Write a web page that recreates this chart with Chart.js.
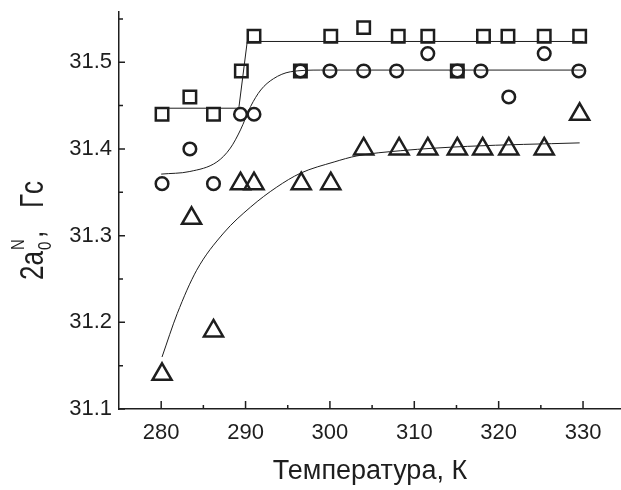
<!DOCTYPE html>
<html lang="ru">
<head>
    <meta charset="UTF-8">
    <title>2a0N от температуры</title>
    <script src="https://cdn.jsdelivr.net/npm/chart.js"></script>
    <style>
        body { margin: 0; background: #fff; }
        #wrap { width: 621px; height: 490px; }
    </style>
</head>
<body>
<div id="wrap">
    <canvas id="chart" width="621" height="490"></canvas>
</div>
<script>
    // квадраты
    const tempSquares = [280.1, 283.4, 286.2, 289.5, 291.0, 296.5, 300.1, 304.0, 308.1, 311.6, 315.1, 318.2, 321.1, 325.4, 329.6];
    const valSquares  = [31.44, 31.46, 31.44, 31.49, 31.53, 31.49, 31.53, 31.54, 31.53, 31.53, 31.49, 31.53, 31.53, 31.53, 31.53];
    // кружки
    const tempCircles = [280.1, 283.4, 286.2, 289.4, 291.0, 296.5, 300.0, 304.0, 307.9, 311.6, 315.1, 317.9, 321.2, 325.4, 329.5];
    const valCircles  = [31.36, 31.40, 31.36, 31.44, 31.44, 31.49, 31.49, 31.49, 31.49, 31.51, 31.49, 31.49, 31.46, 31.51, 31.49];
    // треугольники
    const tempTriangles = [280.1, 283.6, 286.2, 289.4, 291.0, 296.6, 300.1, 304.0, 308.2, 311.6, 315.1, 318.1, 321.2, 325.4, 329.6];
    const valTriangles  = [31.14, 31.32, 31.19, 31.36, 31.36, 31.36, 31.36, 31.40, 31.40, 31.40, 31.40, 31.40, 31.40, 31.40, 31.44];

    // аппроксимирующие кривые
    const fitSquaresT = [280, 289.2, 290.2, 330];
    const fitSquaresV = [31.447, 31.447, 31.524, 31.524];
    const fitCirclesT = [280, 283.4, 286.6, 288.2, 289.4, 290.6, 291.8, 293.3, 295.3, 298.9, 330];
    const fitCirclesV = [31.371, 31.374, 31.385, 31.401, 31.422, 31.449, 31.468, 31.481, 31.489, 31.491, 31.491];
    const fitTrianglesT = [280.1, 281.9, 284.2, 287.4, 290.6, 293.7, 296.5, 300.5, 303.2, 308.4, 316.3, 329.6];
    const fitTrianglesV = [31.160, 31.210, 31.260, 31.303, 31.333, 31.356, 31.372, 31.385, 31.392, 31.398, 31.403, 31.407];

    // деления осей
    const xMajor = [280, 290, 300, 310, 320, 330];
    const xMinor = [285, 295, 305, 315, 325];
    const yMajor = [31.1, 31.2, 31.3, 31.4, 31.5];
    const yMinor = [31.15, 31.25, 31.35, 31.45, 31.55];

    const toPoints = (xs, ys) => xs.map((x, i) => ({x: x, y: ys[i]}));
    const ink = '#1e1e1e';

    function markers(xs, ys, style, r) {
        return {
            type: 'scatter',
            data: toPoints(xs, ys),
            showLine: false,
            pointStyle: style,
            pointRadius: r,
            pointHoverRadius: r,
            pointBorderWidth: 2.5,
            pointBorderColor: ink,
            pointBackgroundColor: 'rgba(0,0,0,0)'
        };
    }
    function fitLine(xs, ys, mode) {
        return {
            type: 'line',
            data: toPoints(xs, ys),
            borderColor: ink,
            borderWidth: 1,
            pointRadius: 0,
            fill: false,
            cubicInterpolationMode: mode,
            tension: 0
        };
    }

    // внутренние деления и подпись оси Y
    const axisDecor = {
        id: 'axisDecor',
        afterDraw(chart) {
            const ctx = chart.ctx;
            const sx = chart.scales.x, sy = chart.scales.y;
            const a = chart.chartArea;
            ctx.save();
            ctx.strokeStyle = ink;
            ctx.lineWidth = 1.5;
            ctx.beginPath();
            xMajor.forEach(v => { const p = sx.getPixelForValue(v); ctx.moveTo(p, a.bottom); ctx.lineTo(p, a.bottom - 8); });
            xMinor.forEach(v => { const p = sx.getPixelForValue(v); ctx.moveTo(p, a.bottom); ctx.lineTo(p, a.bottom - 4); });
            yMajor.forEach(v => { const p = sy.getPixelForValue(v); ctx.moveTo(a.left, p); ctx.lineTo(a.left + 6, p); });
            yMinor.forEach(v => { const p = sy.getPixelForValue(v); ctx.moveTo(a.left, p); ctx.lineTo(a.left + 4, p); });
            ctx.stroke();

            // 2a0N, Гс
            ctx.fillStyle = ink;
            ctx.translate(43, 280);
            ctx.scale(1.25, 1);
            ctx.rotate(-Math.PI / 2);
            ctx.textBaseline = 'alphabetic';
            ctx.textAlign = 'left';
            ctx.font = '26px "Liberation Sans", Arial, sans-serif';
            ctx.fillText('2a', 0, 0);
            const w = ctx.measureText('2a').width;
            ctx.font = '15px "Liberation Sans", Arial, sans-serif';
            ctx.fillText('0', w + 1, 6);
            ctx.fillText('N', w + 1, -15);
            ctx.font = '26px "Liberation Sans", Arial, sans-serif';
            ctx.fillText(',', w + 13, 0);
            ctx.fillText('Гс', 72, 0);
            ctx.restore();
        }
    };

    const tickFont = {family: '"Liberation Sans", Arial, sans-serif', size: 22};

    new Chart(document.getElementById('chart'), {
        type: 'scatter',
        data: {
            datasets: [
                fitLine(fitSquaresT, fitSquaresV, 'default'),
                fitLine(fitCirclesT, fitCirclesV, 'monotone'),
                fitLine(fitTrianglesT, fitTrianglesV, 'monotone'),
                markers(tempSquares, valSquares, 'rect', 8.8),
                markers(tempCircles, valCircles, 'circle', 6.3),
                markers(tempTriangles, valTriangles, 'triangle', 11)
            ]
        },
        options: {
            responsive: false,
            animation: false,
            devicePixelRatio: 1,
            layout: { autoPadding: false, padding: { top: 12, left: 0, right: 0, bottom: 0 } },
            plugins: {
                legend: { display: false },
                tooltip: { enabled: false }
            },
            scales: {
                x: {
                    type: 'linear',
                    min: 275,
                    max: 334.5,
                    afterBuildTicks: s => { s.ticks = xMajor.map(v => ({value: v})); },
                    afterFit: s => { s.height = 81; s.paddingLeft = 0; s.paddingRight = 0; },
                    grid: { display: false, drawTicks: false },
                    border: { display: true, color: ink, width: 1.5 },
                    ticks: { color: ink, font: tickFont, padding: 11, callback: v => String(v) },
                    title: {
                        display: true,
                        text: 'Температура, К',
                        color: ink,
                        font: {family: '"Liberation Sans", Arial, sans-serif', size: 27},
                        padding: { top: 0, bottom: 2 }
                    }
                },
                y: {
                    type: 'linear',
                    min: 31.1,
                    max: 31.558,
                    afterBuildTicks: s => { s.ticks = yMajor.map(v => ({value: v})); },
                    afterFit: s => { s.width = 119; s.paddingTop = 0; s.paddingBottom = 0; },
                    grid: { display: false, drawTicks: false },
                    border: { display: true, color: ink, width: 1.5 },
                    ticks: { color: ink, font: tickFont, padding: 7, callback: v => v.toFixed(1) }
                }
            }
        },
        plugins: [axisDecor]
    });
</script>
</body>
</html>
